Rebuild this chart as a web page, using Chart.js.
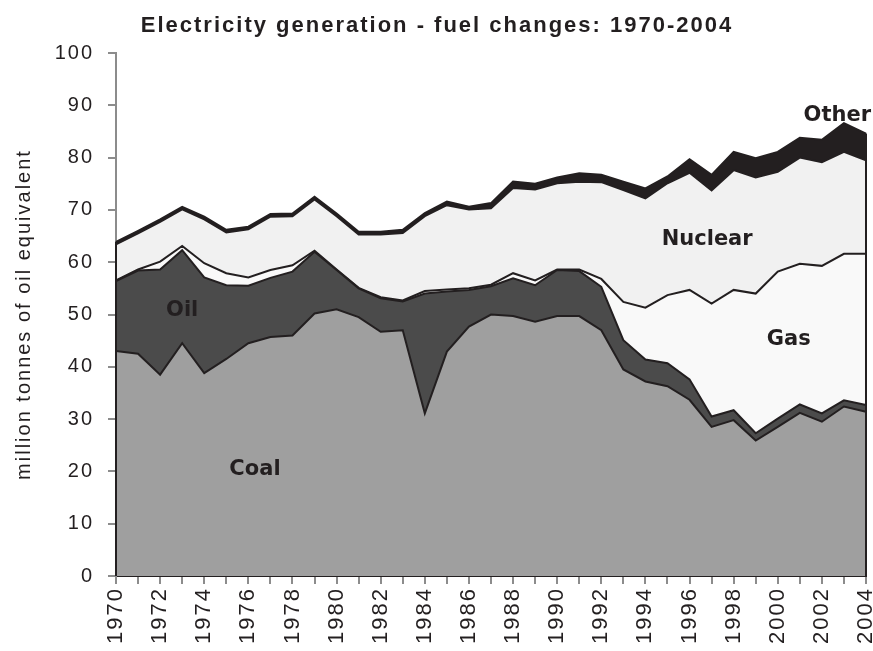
<!DOCTYPE html>
<html>
<head>
<meta charset="utf-8">
<title>Electricity generation - fuel changes: 1970-2004</title>
<script src="https://cdn.jsdelivr.net/npm/chart.js@4.4.1/dist/chart.umd.min.js"></script>
<style>
  html, body { margin: 0; padding: 0; background: #fff; }
  #wrap { width: 873px; height: 651px; }
</style>
</head>
<body>
<div id="wrap"><canvas id="fuelChart" width="873" height="651"></canvas></div>
<script>
// years along the bottom
const years = [1970, 1971, 1972, 1973, 1974, 1975, 1976, 1977, 1978, 1979,
               1980, 1981, 1982, 1983, 1984, 1985, 1986, 1987, 1988, 1989,
               1990, 1991, 1992, 1993, 1994, 1995, 1996, 1997, 1998, 1999,
               2000, 2001, 2002, 2003, 2004];

// million tonnes of oil equivalent, each fuel stacked on the one before
const coal = [43, 42.5, 38.5, 44.5, 38.8, 41.5, 44.5, 45.7, 46, 50.2,
              51, 49.5, 46.7, 47, 31.1, 42.9, 47.7, 50, 49.7, 48.6,
              49.7, 49.7, 47, 39.5, 37.2, 36.3, 33.7, 28.5, 29.8, 25.9,
              28.5, 31.2, 29.5, 32.4, 31.4];
const oil = [13.4, 15.9, 20.1, 17.8, 18.3, 14.1, 11.0, 11.3, 12.2, 11.8,
             7.5, 5.5, 6.4, 5.5, 22.9, 11.5, 7.0, 5.4, 7.2, 7.0,
             8.8, 8.6, 8.3, 5.6, 4.2, 4.4, 3.9, 2.0, 1.9, 1.4,
             1.6, 1.6, 1.6, 1.2, 1.3];
const gas = [0.1, 0.2, 1.5, 0.8, 2.7, 2.3, 1.6, 1.5, 1.2, 0.2,
             0.1, 0.1, 0.2, 0.2, 0.5, 0.4, 0.3, 0.3, 1.0, 0.9,
             0.1, 0.3, 1.5, 7.3, 9.9, 13.0, 17.1, 21.6, 23.0, 26.7,
             28.1, 26.9, 28.2, 28.0, 28.9];
const nuclear = [6.9, 6.9, 7.6, 7.0, 8.4, 7.8, 9.2, 10.2, 9.4, 9.8,
                 10.2, 10.2, 12.0, 12.9, 14.3, 16.1, 15.1, 14.6, 16.3, 17.4,
                 16.5, 16.8, 18.5, 21.4, 20.9, 21.4, 22.4, 21.6, 22.9, 22.2,
                 19.1, 20.3, 19.8, 19.5, 17.9];
const other = [0.5, 0.5, 0.5, 0.5, 0.5, 0.5, 0.5, 0.5, 0.5, 0.5,
               0.5, 0.5, 0.5, 0.6, 0.6, 0.7, 0.5, 1.0, 1.2, 1.1,
               1.1, 1.6, 1.4, 1.6, 1.9, 1.3, 2.6, 3.0, 3.5, 3.7,
               3.8, 3.8, 4.3, 5.5, 5.1];

// names written inside the areas, placed at [year, value]
const areaNames = ['Coal', 'Oil', 'Gas', 'Nuclear', 'Other'];
const nameSpots = [[1976.3, 20.3], [1973.0, 50.7], [2000.5, 45.3], [1996.8, 64.4], [2002.7, 88.1]];

const ink = '#231f20';
const axisGrey = '#8c8c8c';

function area(label, values, colour, fill) {
    return {
        label: label,
        data: values,
        backgroundColor: colour,
        borderColor: ink,
        borderWidth: 2,
        fill: fill,
        pointRadius: 0,
        tension: 0
    };
}

// wider letters like the original
const spacing = {
    id: 'spacing',
    beforeUpdate(chart) { chart.ctx.letterSpacing = '2px'; },
    beforeDraw(chart) { chart.ctx.letterSpacing = '2px'; }
};

// area names + the vertical edges of the stack
const areaText = {
    id: 'areaText',
    afterDatasetsDraw(chart) {
        const ctx = chart.ctx;
        const x = chart.scales.x, y = chart.scales.y;
        ctx.save();
        const top = chart.getDatasetMeta(chart.data.datasets.length - 1).data;
        const base = y.getPixelForValue(0);
        ctx.strokeStyle = ink;
        ctx.lineWidth = 2;
        [top[0], top[top.length - 1]].forEach(function (p) {
            ctx.beginPath();
            ctx.moveTo(p.x, p.y);
            ctx.lineTo(p.x, base);
            ctx.stroke();
        });
        ctx.letterSpacing = '0px';
        ctx.fillStyle = ink;
        ctx.font = 'bold 21px "DejaVu Sans", sans-serif';
        ctx.textAlign = 'center';
        ctx.textBaseline = 'middle';
        for (let i = 0; i < areaNames.length; i++) {
            const px = x.getPixelForValue(nameSpots[i][0] - years[0]);
            const py = y.getPixelForValue(nameSpots[i][1]);
            ctx.fillText(areaNames[i], px, py);
        }
        ctx.restore();
    }
};

const config = {
    type: 'line',
    data: {
        labels: years,
        datasets: [
            area('Coal', coal, '#9f9f9f', 'origin'),
            area('Oil', oil, '#4b4b4b', '-1'),
            area('Gas', gas, '#f9f9f9', '-1'),
            area('Nuclear', nuclear, '#f1f1f1', '-1'),
            area('Other', other, ink, '-1')
        ]
    },
    options: {
        responsive: false,
        animation: false,
        layout: { padding: { left: 8, right: 7, top: 0, bottom: 0 } },
        plugins: {
            legend: { display: false },
            tooltip: { enabled: false },
            title: {
                display: true,
                text: 'Electricity generation - fuel changes: 1970-2004',
                color: ink,
                font: { family: '"Liberation Sans", Arial, sans-serif', size: 22, weight: 'bold', lineHeight: 1.2 },
                padding: { top: 13, bottom: 13.6 }
            }
        },
        scales: {
            x: {
                grid: { drawOnChartArea: false, drawTicks: true, tickLength: 8, color: axisGrey, lineWidth: 2 },
                border: { color: ink, width: 2 },
                ticks: {
                    autoSkip: false,
                    minRotation: 90,
                    maxRotation: 90,
                    padding: 3,
                    color: ink,
                    font: { family: '"Liberation Sans", Arial, sans-serif', size: 22 },
                    callback: function (v, i) { return i % 2 === 0 ? String(years[i]) : ''; }
                },
                afterFit: function (s) { s.height = 75; s.paddingLeft = 0; s.paddingRight = 0; }
            },
            y: {
                stacked: true,
                min: 0,
                max: 100,
                grid: { drawOnChartArea: false, drawTicks: true, tickLength: 8, color: axisGrey, lineWidth: 2 },
                border: { color: axisGrey, width: 2 },
                ticks: {
                    stepSize: 10,
                    padding: 14,
                    color: ink,
                    font: { family: '"Liberation Sans", Arial, sans-serif', size: 20 }
                },
                title: {
                    display: true,
                    text: 'million tonnes of oil equivalent',
                    color: ink,
                    font: { family: '"Liberation Sans", Arial, sans-serif', size: 20, lineHeight: 1.2 },
                    padding: { top: 4, bottom: 4 }
                },
                afterFit: function (s) { s.width = 108; }
            }
        }
    },
    plugins: [spacing, areaText]
};

function createFuelChart() {
    const canvas = document.getElementById('fuelChart');
    if (canvas) {
        new Chart(canvas, config);
    }
}

createFuelChart();
</script>
</body>
</html>
